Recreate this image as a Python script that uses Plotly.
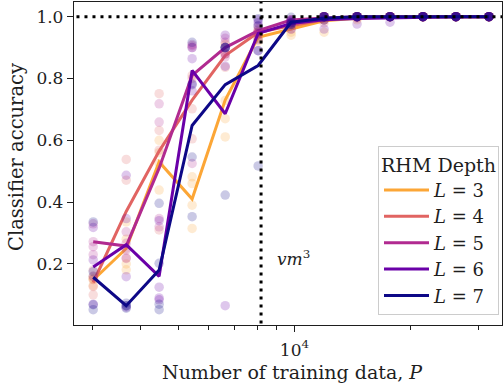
import numpy as np
import plotly.graph_objects as go

# Number of training data P (x positions of the measurements)
P = [3010, 3665, 4460, 5430, 6615, 8050, 9800, 11930, 14525, 17680, 21520, 26200, 31900]
DEPTHS = [3, 4, 5, 6, 7]
COLORS = ["#fca636", "#e16462", "#b12a90", "#6a00a8", "#0d0887"]
VM3 = 8192

# mean accuracy curves
ACC_L3 = [0.148, 0.25, 0.53, 0.41, 0.73, 0.933, 0.96, 0.987, 0.995, 1.0, 1.0, 1.0, 1.0]
ACC_L4 = [0.14, 0.37, 0.565, 0.73, 0.874, 0.949, 0.971, 0.99, 0.998, 1.0, 1.0, 1.0, 1.0]
ACC_L5 = [0.272, 0.258, 0.51, 0.81, 0.90, 0.955, 0.989, 0.996, 1.0, 1.0, 1.0, 1.0, 1.0]
ACC_L6 = [0.19, 0.262, 0.16, 0.826, 0.686, 0.946, 0.978, 0.99, 0.994, 0.996, 1.0, 1.0, 1.0]
ACC_L7 = [0.157, 0.065, 0.18, 0.648, 0.78, 0.842, 0.982, 0.995, 1.0, 1.0, 1.0, 1.0, 1.0]

# individual runs (seeds) at each P
SEEDS_L3 = [[0.154, 0.13, 0.16, 0.15], [0.336, 0.181, 0.28, 0.20], [0.525, 0.439, 0.60, 0.56],
            [0.482, 0.39, 0.315, 0.46], [0.729, 0.67, 0.611, 0.91], [0.95, 0.93, 0.92, 0.93],
            [0.94, 0.95, 0.97, 0.98], [0.95, 0.99, 1.0, 1.0], [0.99, 1.0, 1.0, 1.0],
            [1.0, 1.0, 1.0, 1.0], [1.0, 1.0, 1.0, 1.0], [1.0, 1.0, 1.0, 1.0], [1.0, 1.0, 1.0, 1.0]]
SEEDS_L4 = [[0.10, 0.127, 0.18, 0.15], [0.538, 0.471, 0.25, 0.22], [0.751, 0.632, 0.568, 0.31],
            [0.702, 0.605, 0.80, 0.81], [0.836, 0.90, 0.88, 0.88], [0.96, 0.95, 0.945, 0.94],
            [0.96, 0.97, 0.975, 0.98], [0.98, 0.99, 1.0, 1.0], [0.995, 1.0, 1.0, 1.0],
            [1.0, 1.0, 1.0, 1.0], [1.0, 1.0, 1.0, 1.0], [1.0, 1.0, 1.0, 1.0], [1.0, 1.0, 1.0, 1.0]]
SEEDS_L5 = [[0.33, 0.272, 0.256, 0.23], [0.304, 0.267, 0.218, 0.245], [0.718, 0.659, 0.347, 0.32],
            [0.906, 0.525, 0.90, 0.91], [0.93, 0.917, 0.88, 0.87], [0.97, 0.955, 0.95, 0.945],
            [0.985, 0.99, 0.99, 0.99], [0.99, 1.0, 1.0, 1.0], [1.0, 1.0, 1.0, 1.0],
            [1.0, 1.0, 1.0, 1.0], [1.0, 1.0, 1.0, 1.0], [1.0, 1.0, 1.0, 1.0], [1.0, 1.0, 1.0, 1.0]]
SEEDS_L6 = [[0.318, 0.213, 0.07, 0.16], [0.487, 0.347, 0.159, 0.06], [0.125, 0.084, 0.09, 0.34],
            [0.864, 0.783, 0.90, 0.76], [0.94, 0.90, 0.84, 0.065], [0.99, 0.98, 0.89, 0.925],
            [0.96, 0.98, 0.985, 0.987], [0.96, 1.0, 1.0, 1.0], [0.976, 1.0, 1.0, 1.0],
            [0.982, 1.0, 1.0, 1.0], [1.0, 1.0, 1.0, 1.0], [1.0, 1.0, 1.0, 1.0], [1.0, 1.0, 1.0, 1.0]]
SEEDS_L7 = [[0.336, 0.175, 0.068, 0.052], [0.073, 0.057, 0.065, 0.065], [0.396, 0.202, 0.052, 0.07],
            [0.917, 0.546, 0.353, 0.78], [0.423, 0.90, 0.90, 0.90], [0.517, 0.993, 0.97, 0.89],
            [0.998, 0.98, 0.975, 0.975], [1.0, 1.0, 1.0, 0.99], [1.0, 1.0, 1.0, 1.0],
            [1.0, 1.0, 1.0, 1.0], [1.0, 1.0, 1.0, 1.0], [1.0, 1.0, 1.0, 1.0], [1.0, 1.0, 1.0, 1.0]]

Y_TICKS = [0.2, 0.4, 0.6, 0.8, 1.0]
Y_TICK_LABELS = ["0.2", "0.4", "0.6", "0.8", "1.0"]
X_TICKS = [10000]
X_TICK_LABELS = ["10<sup>4</sup>"]
X_MINOR = [3000, 4000, 5000, 6000, 7000, 8000, 9000, 20000, 30000]

ACCS = [ACC_L3, ACC_L4, ACC_L5, ACC_L6, ACC_L7]
SEEDS = [SEEDS_L3, SEEDS_L4, SEEDS_L5, SEEDS_L6, SEEDS_L7]

FONT = "DejaVu Serif"
INK = "#1e1e1e"

fig = go.Figure()
for depth, color, acc, seeds in zip(DEPTHS, COLORS, ACCS, SEEDS):
    xs = [p for p, s in zip(P, seeds) for _ in s]
    ys = [v for s in seeds for v in s]
    fig.add_trace(go.Scatter(x=xs, y=ys, mode="markers",
                             marker=dict(size=9.5, color=color, opacity=0.22, line=dict(width=0)),
                             showlegend=False, hoverinfo="skip"))
    fig.add_trace(go.Scatter(x=P, y=acc, mode="lines",
                             line=dict(color=color, width=3),
                             name=f"<i>L</i> = {depth}"))

# reference lines (dotted)
fig.add_trace(go.Scatter(x=[VM3, VM3], y=[-0.2, 1.2], mode="lines",
                         line=dict(color="black", width=3, dash="3px,5px"),
                         showlegend=False, hoverinfo="skip"))
fig.add_trace(go.Scatter(x=[1000, 100000], y=[1.0, 1.0], mode="lines",
                         line=dict(color="black", width=3, dash="3px,5px"),
                         showlegend=False, hoverinfo="skip"))

fig.add_annotation(x=np.log10(VM3), y=0.22, xref="x", yref="y",
                   text="<i>vm</i><sup>3</sup>", showarrow=False,
                   xanchor="left", yanchor="middle", xshift=14,
                   font=dict(family=FONT, size=17, color=INK))

# axis titles
fig.add_annotation(x=0.5105, y=-0.1455, xref="paper", yref="paper",
                   text="Number of training data, <i>P</i>", showarrow=False,
                   xanchor="center", yanchor="middle",
                   font=dict(family=FONT, size=19, color=INK))
fig.add_annotation(x=-0.1343, y=0.5186, xref="paper", yref="paper",
                   text="Classifier accuracy", showarrow=False, textangle=-90,
                   xanchor="center", yanchor="middle",
                   font=dict(family=FONT, size=19.5, color=INK))

axis_common = dict(showline=True, mirror=True, linecolor=INK, linewidth=1.3,
                   showgrid=False, zeroline=False, ticks="outside", ticklen=6,
                   tickwidth=1.2, tickcolor=INK,
                   tickfont=dict(family=FONT, size=17, color=INK))

fig.update_layout(
    width=504, height=388,
    margin=dict(l=74, r=2, t=2, b=63),
    paper_bgcolor="white", plot_bgcolor="white",
    font=dict(family=FONT, color=INK),
    xaxis=dict(type="log", range=[3.4288, 4.5376],
               tickmode="array", tickvals=X_TICKS, ticktext=X_TICK_LABELS,
               ticklabelstandoff=3,
               minor=dict(tickmode="array", tickvals=X_MINOR, ticks="outside",
                          ticklen=3.5, tickwidth=1, tickcolor=INK),
               **axis_common),
    yaxis=dict(range=[0.0025, 1.0475], tickmode="array",
               tickvals=Y_TICKS, ticktext=Y_TICK_LABELS,
               **axis_common),
    legend=dict(x=0.993, y=0.031, xanchor="right", yanchor="bottom",
                bgcolor="rgba(255,255,255,0.85)", bordercolor="#cccccc", borderwidth=1,
                font=dict(family=FONT, size=18, color=INK),
                title=dict(text="RHM Depth", side="top center",
                           font=dict(family=FONT, size=19, color=INK)),
                itemwidth=45, tracegroupgap=0),
)

fig.write_html("out.html")
